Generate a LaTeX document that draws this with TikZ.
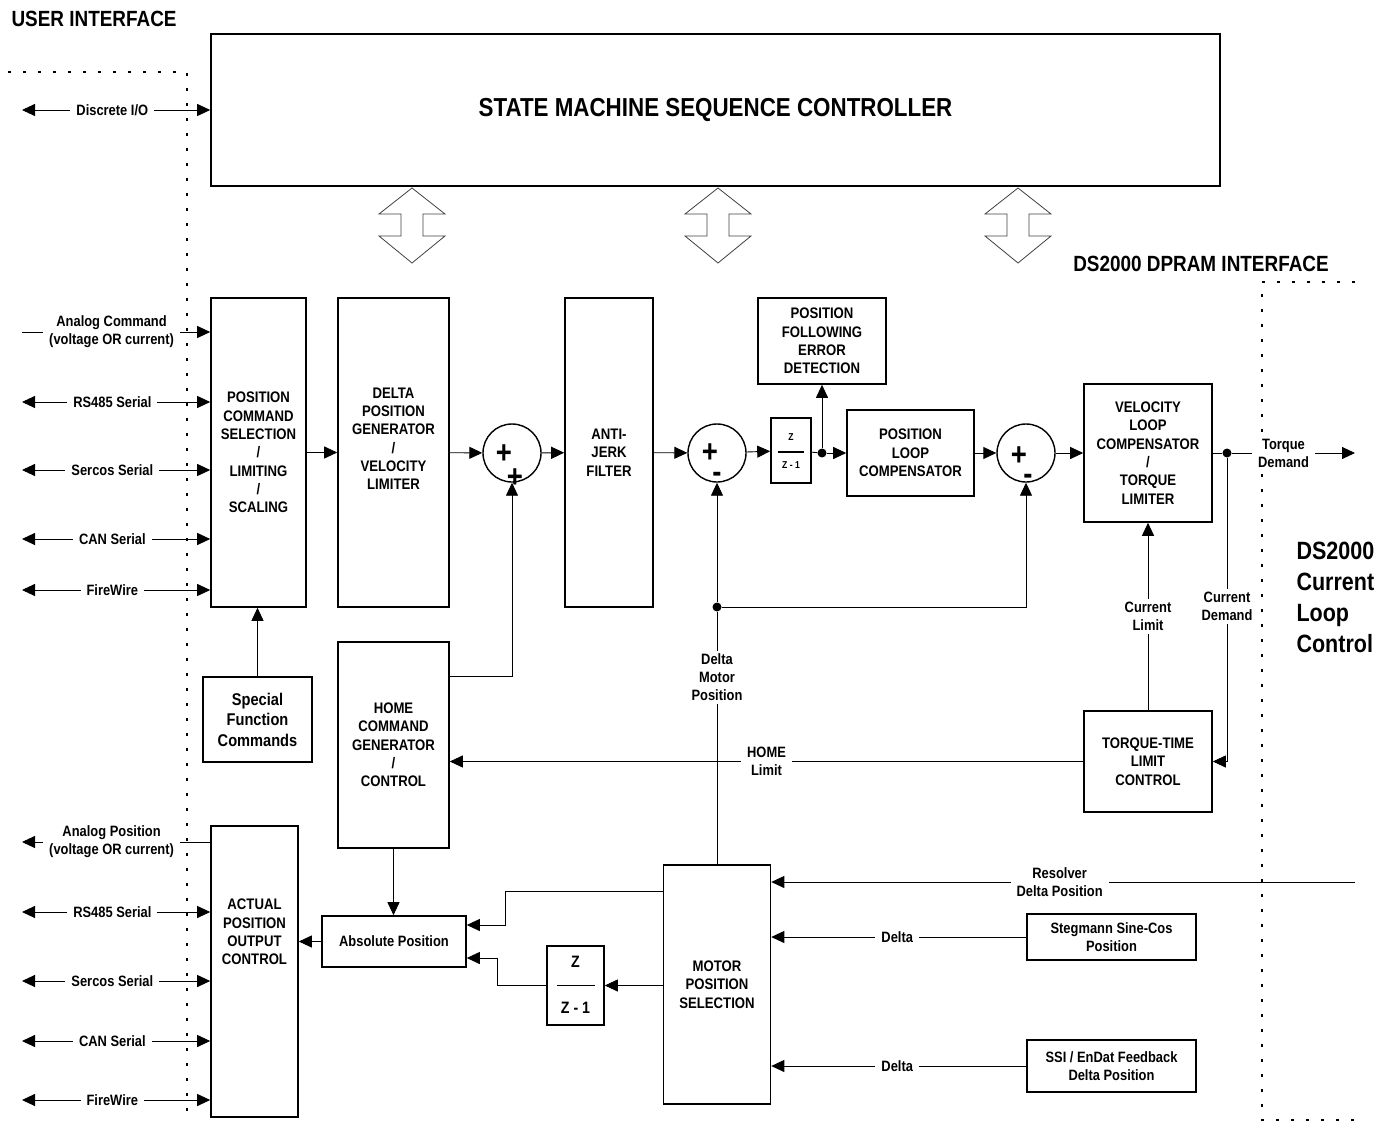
\documentclass[tikz,border=0pt]{standalone}
\usepackage{fontspec}
\setmainfont{Liberation Sans}[FakeStretch=0.86]
\usetikzlibrary{arrows.meta, calc}
\newcommand\blkFont{\bfseries\fontsize{15.3}{18.3}\selectfont}
\newcommand\lblFont{\bfseries\fontsize{15}{18}\selectfont}
\newcommand\ttlFont{\bfseries\fontsize{22}{26}\selectfont}
\newcommand\sgnFont{\bfseries\fontsize{32}{32}\selectfont}

\begin{document}
\begin{tikzpicture}[x=1pt, y=-1pt, line join=miter,
      >={Triangle[length=13pt,width=12pt]},
      blk/.style={draw, line width=1.6pt, align=center, font=\blkFont, inner sep=0pt},
      lbl/.style={fill=white, align=center, font=\lblFont, inner xsep=6pt, inner ysep=3pt},
      sumj/.style={circle, draw, line width=1.4pt, minimum size=58pt, inner sep=0pt},
      sgn/.style={font=\sgnFont, inner sep=0pt},
      jdot/.style={circle, fill, minimum size=9pt, inner sep=0pt},
      wire/.style={line width=0.9pt},
      arr/.style={wire, ->},
      io/.style={wire, <->},
      dots/.style={line width=1.5pt, dash pattern=on 3pt off 12pt},
      bus/.style={line width=0.8pt, draw=black!75}]
    \useasboundingbox (0,0) rectangle (1392,1126);
    % titles and interface borders
    \node[font=\ttlFont, anchor=west] (ui)    at (8,19)    {USER INTERFACE};
    \node[font=\ttlFont]              (dpram) at (1201,264) {DS2000 DPRAM INTERFACE};
    \node[font=\bfseries\fontsize{25}{31}\selectfont, align=left, anchor=west]
                                      (clc)   at (1293,597) {DS2000\\Current\\Loop\\Control};
    \draw[dots] (8,72) -| (187,1120);
    \draw[dots] (1355,282) -| (1262,1120) -- (1355,1120);
    % state machine and DPRAM arrows
    \node[blk, minimum width=1009, minimum height=152, font=\bfseries\fontsize{26}{30}\selectfont]
          (sm) at (715.5,110) {STATE MACHINE SEQUENCE CONTROLLER};
    \foreach \cx in {412,718,1018}
      \draw[bus] (\cx,188) -- ++(33,26) -- ++(-22,0) -- ++(0,22) -- ++(22,0) -- ++(-33,27)
                 -- ++(-33,-27) -- ++(22,0) -- ++(0,-22) -- ++(-22,0) -- cycle;
    % blocks
    \node[blk, minimum width=95,  minimum height=309] (pcs)  at (258.5,452.5) {POSITION\\COMMAND\\SELECTION\\/\\LIMITING\\/\\SCALING};
    \node[blk, minimum width=111, minimum height=309] (dpg)  at (393.5,452.5) {DELTA\\POSITION\\GENERATOR\\/\\VELOCITY\\LIMITER\\[9pt]};
    \node[sumj]                                       (sum1) at (512,453) {};
    \node[blk, minimum width=88,  minimum height=309] (ajf)  at (609,452.5) {ANTI-\\JERK\\FILTER};
    \node[sumj]                                       (sum2) at (717,453) {};
    \node[blk, minimum width=40,  minimum height=65]  (zone) at (791,450.5) {};
    \node[jdot]                                       (zdot) at (822,453) {};
    \node[blk, minimum width=128, minimum height=86]  (pfe)  at (822,341) {POSITION\\FOLLOWING\\ERROR\\DETECTION};
    \node[blk, minimum width=127, minimum height=86]  (plc)  at (910.5,453) {POSITION\\LOOP\\COMPENSATOR};
    \node[sumj]                                       (sum3) at (1026,453) {};
    \node[blk, minimum width=128, minimum height=138] (vlc)  at (1148,453) {VELOCITY\\LOOP\\COMPENSATOR\\/\\TORQUE\\LIMITER};
    \node[jdot]                                       (tdot) at (1227,453) {};
    \node[blk, minimum width=109, minimum height=85, font=\bfseries\fontsize{17}{20.5}\selectfont]
                                                      (sfc)  at (257.5,719.5) {Special\\Function\\Commands};
    \node[blk, minimum width=111, minimum height=206] (hcg)  at (393.5,745) {HOME\\COMMAND\\GENERATOR\\/\\CONTROL};
    \node[blk, minimum width=128, minimum height=101] (ttl)  at (1148,761.5) {TORQUE-TIME\\LIMIT\\CONTROL};
    \node[blk, minimum width=87,  minimum height=291] (apoc) at (254.5,971.5) {};
    \node[font=\blkFont, align=center]                (apocTxt) at (254.5,932) {ACTUAL\\POSITION\\OUTPUT\\CONTROL};
    \node[blk, minimum width=144, minimum height=51, font=\lblFont] (abs) at (394,941.5) {Absolute Position};
    \node[blk, minimum width=57,  minimum height=79]  (ztwo) at (575.5,985.5) {};
    \node[blk, minimum width=107, minimum height=239] (mps)  at (717,984.5) {MOTOR\\POSITION\\SELECTION};
    \node[blk, minimum width=169, minimum height=46, font=\lblFont]  (stg) at (1111.5,937) {Stegmann Sine-Cos\\Position};
    \node[blk, minimum width=169, minimum height=52, font=\lblFont]  (ssi) at (1111.5,1066) {SSI / EnDat Feedback\\Delta Position};
    % signs and fractions
    \node[sgn] (s1a) at (504,454) {+};
    \node[sgn] (s1b) at (515,478) {+};
    \node[sgn] (s2a) at (710,453) {+};
    \node[sgn] (s2b) at (717,477) {-};
    \node[sgn] (s3a) at (1019,456) {+};
    \node[sgn] (s3b) at (1028,479) {-};
    \node[font=\bfseries\fontsize{10}{12}\selectfont] (zoneN) at (791,437) {Z};
    \node[font=\bfseries\fontsize{10}{12}\selectfont] (zoneD) at (791,465) {Z - 1};
    \draw[line width=1.3pt] ($(zone.center)+(-13,1.5)$) -- ($(zone.center)+(13,1.5)$);
    \node[font=\bfseries\fontsize{16.5}{18}\selectfont] (ztwoN) at (575.5,962) {Z};
    \node[font=\bfseries\fontsize{16.5}{18}\selectfont] (ztwoD) at (575.5,1008) {Z - 1};
    \draw[line width=1.3pt] ($(ztwo.center)+(-19,0)$) -- ($(ztwo.center)+(19,0)$);
    % user interface lines
    \coordinate (dio) at (22,110);
    \draw[io] (dio) -- node[lbl, pos=0.48] {Discrete I/O} (dio -| sm.west);
    \coordinate (anc) at (22,332);
    \draw[arr] (anc) -- node[lbl, pos=0.476] {Analog Command\\(voltage OR current)} (anc -| pcs.west);
    \foreach \y/\t in {402/RS485 Serial, 470/Sercos Serial, 539/CAN Serial, 590/FireWire}{
      \coordinate (ext) at (22,\y);
      \draw[io] (ext) -- node[lbl, pos=0.48] {\t} (ext -| pcs.west);
    }
    \coordinate (anp) at (22,842);
    \draw[arr] (anp -| apoc.west) -- node[lbl, pos=0.524] {Analog Position\\(voltage OR current)} (anp);
    \foreach \y/\t in {912/RS485 Serial, 981/Sercos Serial, 1041/CAN Serial, 1100/FireWire}{
      \coordinate (ext) at (22,\y);
      \draw[io] (ext) -- node[lbl, pos=0.48] {\t} (ext -| apoc.west);
    }
    % forward path
    \draw[arr] (pcs) -- (dpg);
    \draw[arr] (dpg) -- (sum1);
    \draw[arr] (sum1) -- (ajf);
    \draw[arr] (ajf) -- (sum2);
    \draw[arr] (sum2) -- (zone);
    \draw[wire] (zone) -- (zdot);
    \draw[arr] (zdot) -- (plc);
    \draw[arr] (zdot) -- (pfe);
    \draw[arr] (plc) -- (sum3);
    \draw[arr] (sum3) -- (vlc);
    \draw[wire] (vlc) -- (tdot);
    \coordinate (tqd) at (1355,453);
    \draw[arr] (tdot) -- node[lbl, pos=0.42] {Torque\\Demand} (tqd);
    \draw[arr] (tdot) -- node[lbl, pos=0.49] {Current\\Demand} (tdot |- ttl.east) -- (ttl.east);
    \draw[arr] (ttl) -- node[lbl] {Current\\Limit} (vlc);
    \draw[arr] (ttl.west) -- node[lbl] {HOME\\Limit} (ttl.west -| hcg.east);
    \draw[arr] (sfc) -- (sfc |- pcs.south);
    \draw[arr] (hcg.east |- 0,676) -| (sum1.south);
    % motor feedback
    \node[jdot] (fbdot) at (717,607) {};
    \draw[wire] (mps.north) -- node[lbl, pos=0.74] {Delta\\Motor\\Position} (fbdot);
    \draw[arr] (fbdot) -- (sum2.south);
    \draw[arr] (fbdot) -| (sum3.south);
    \draw[arr] (hcg.south) -- (hcg.south |- abs.north);
    \draw[arr] (abs) -- (abs -| apoc.east);
    \draw[arr] (mps.west |- 0,891) -| (505,925) -- (abs.east |- 0,925);
    \draw[arr] (mps.west |- ztwo) -- (ztwo.east);
    \draw[arr] (ztwo.west) -| (497,958) -- (abs.east |- 0,958);
    \coordinate (res) at (1355,882);
    \draw[arr] (res) -- node[lbl, pos=0.506] {Resolver\\Delta Position} (res -| mps.east);
    \draw[arr] (stg) -- node[lbl, pos=0.506] {Delta} (stg -| mps.east);
    \draw[arr] (ssi) -- node[lbl, pos=0.506] {Delta} (ssi -| mps.east);
  \end{tikzpicture}
\end{document}
